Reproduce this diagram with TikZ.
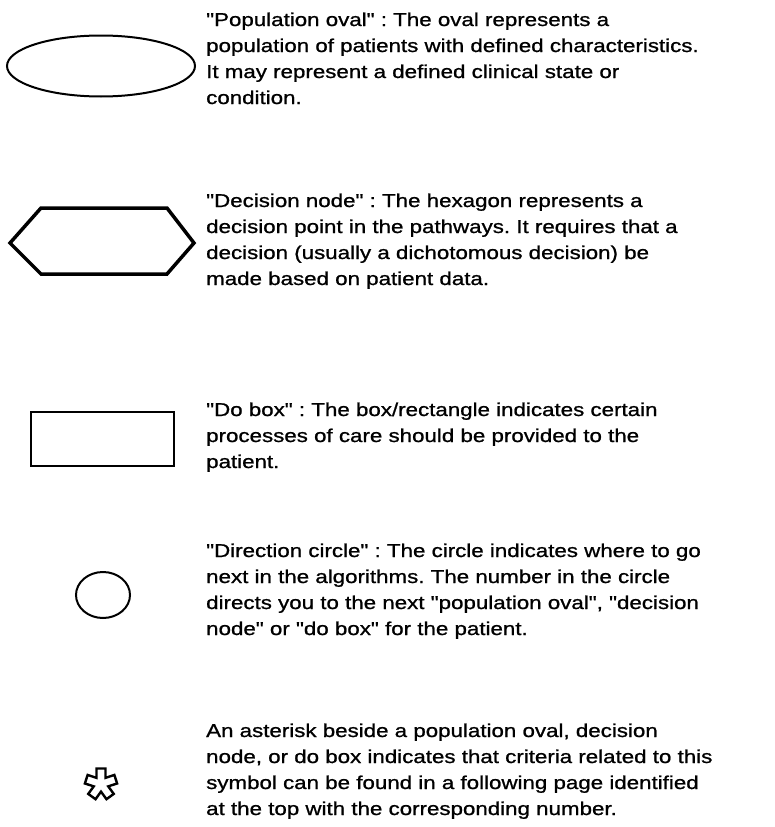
\documentclass[tikz,border=0pt]{standalone}
\usepackage{fontspec}
\setmainfont{Liberation Sans}[Ligatures=TeXOff,FakeStretch=1.2,FakeBold=1]
\usetikzlibrary{shapes.geometric,calc}
\frenchspacing
\begin{document}
\begin{tikzpicture}[x=1pt,y=-1pt,
  desc/.style={anchor=base west,align=left,inner sep=0pt,font=\fontsize{18.6}{26}\selectfont},
  oval/.style={draw,ellipse,line width=2pt,minimum width=188pt,minimum height=61pt,inner sep=0pt},
  hexline/.style={draw,line width=3.5pt,line join=miter},
  dobox/.style={draw,rectangle,line width=2.5pt,minimum width=143pt,minimum height=54pt,inner sep=0pt},
  dircircle/.style={draw,ellipse,line width=2pt,minimum width=54pt,minimum height=46pt,inner sep=0pt},
  astline/.style={draw,line width=2.4pt,line join=miter}]
\useasboundingbox (0,0) rectangle (774,827);
% population oval
\node[oval] (oval) at (101,66) {};
\node[desc] (t1) at (206,104) {"Population oval" : The oval represents a\\population of patients with defined characteristics.\\It may represent a defined clinical state or\\condition.};
% decision hexagon
\draw[hexline] (10,243) -- (41,208) -- (167,208) -- (194,243) -- (167,274) -- (41,274) -- cycle;
\node[desc] (t2) at (206,285) {"Decision node" : The hexagon represents a\\decision point in the pathways. It requires that a\\decision (usually a dichotomous decision) be\\made based on patient data.};
% do box
\node[dobox] (box) at (102.5,439) {};
\node[desc] (t3) at (206,468) {"Do box" : The box/rectangle indicates certain\\processes of care should be provided to the\\patient.};
% direction circle
\node[dircircle] (circ) at (103,595) {};
\node[desc] (t4) at (206,635) {"Direction circle" : The circle indicates where to go\\next in the algorithms. The number in the circle\\directs you to the next "population oval", "decision\\node" or "do box" for the patient.};
% asterisk
\begin{scope}[shift={(101,784)}]
\draw[astline] (54:7.6pt)
  \foreach \t [evaluate=\t as \a using \t-90, evaluate=\t as \b using \t+90, evaluate=\t as \c using \t+36] in {90,162,234,306,378}
  { -- ($(\t:15.5pt)+(\a:4.5pt)$) -- ($(\t:15.5pt)+(\b:4.5pt)$) -- (\c:7.6pt) } -- cycle;
\end{scope}
\node[desc] (t5) at (206,815) {An asterisk beside a population oval, decision\\node, or do box indicates that criteria related to this\\symbol can be found in a following page identified\\at the top with the corresponding number.};
\end{tikzpicture}
\end{document}
